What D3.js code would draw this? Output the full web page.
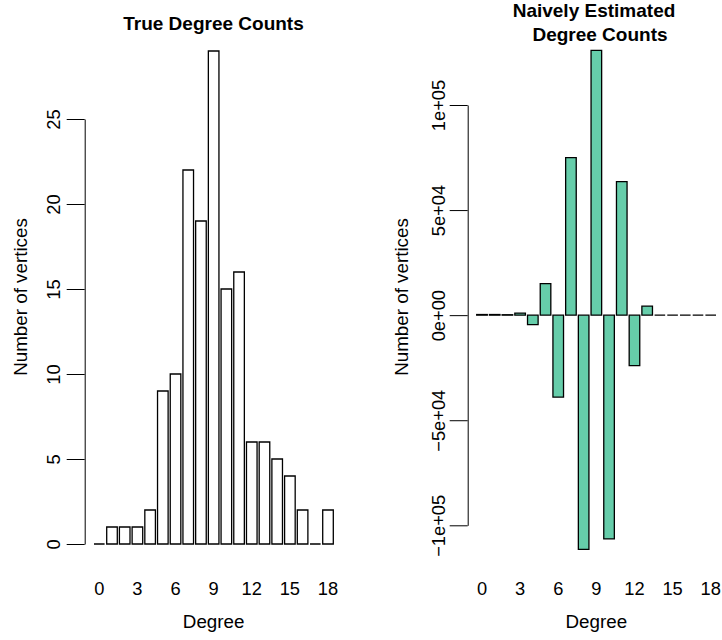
<!DOCTYPE html>
<html>
<head>
<meta charset="utf-8">
<script src="https://cdn.jsdelivr.net/npm/d3@7"></script>
<style>
  body { margin: 0; background: #fff; }
  text { font-family: "Liberation Sans", Arial, sans-serif; fill: #000; }
</style>
</head>
<body>
<script>
const width = 722,
    height = 640

// data
const degrees = [0, 1, 2, 3, 4, 5, 6, 7, 8, 9, 10, 11, 12, 13, 14, 15, 16, 17, 18]
const trueCounts = [0, 1, 1, 1, 2, 9, 10, 22, 19, 29, 15, 16, 6, 6, 5, 4, 2, 0, 2]
const naiveCounts = [300, 300, 200, 1000, -4500, 15000, -39000, 75000, -111500, 126000,
    -106500, 63500, -24000, 4300, 0, 0, 0, 0, 0]
const xTicks = [0, 3, 6, 9, 12, 15, 18]
const leftYTicks = [0, 5, 10, 15, 20, 25]
const rightYTicks = [-1e5, -5e4, 0, 5e4, 1e5]
const rightYLabels = ["\u22121e+05", "\u22125e+04", "0e+00", "5e+04", "1e+05"]

const svg = d3.select("body")
    .append("svg")
    .attr("width", width)
    .attr("height", height)

// R barplot positions: bar i spans [0.2 + 1.2i, 1.2 + 1.2i]
const barLeft = (i) => 0.2 + 1.2 * i

function panel(opts) {
    const x = d3.scaleLinear().domain([0.2, 22.8]).range(opts.xRange)
    const y = d3.scaleLinear().domain(opts.yDomain).range(opts.yRange)
    const g = svg.append("g")

    // paths rather than rects so zero-height bars still show their border
    g.selectAll("path.bar")
        .data(opts.values)
        .join("path")
        .attr("class", "bar")
        .attr("d", (d, i) => {
            const x0 = x(barLeft(i)), x1 = x(barLeft(i) + 1)
            const y0 = y(0), y1 = y(d)
            return `M${x0},${y0}H${x1}V${y1}H${x0}Z`
        })
        .attr("fill", opts.fill)
        .attr("stroke", "#000")
        .style("stroke-width", "1.3px")

    // y axis with rotated labels, like R's las = 0
    const axis = d3.axisLeft(y)
        .tickValues(opts.yTicks)
        .tickSizeInner(18)
        .tickSizeOuter(0)
        .tickFormat((d, i) => opts.yLabels[i])
    const ax = g.append("g")
        .attr("transform", `translate(${opts.axisX},0)`)
        .call(axis)
    ax.select(".domain").attr("stroke", "#000")
    ax.selectAll(".tick line").attr("stroke", "#000")
    ax.selectAll(".tick text")
        .attr("transform", "rotate(-90)")
        .attr("x", 0)
        .attr("y", -opts.labelGap)
        .attr("dy", 0)
        .attr("text-anchor", "middle")
        .style("font-size", "18.3px")
        .style("font-family", '"Liberation Sans", Arial, sans-serif')
        .attr("fill", "#000")

    // x labels under bar centres
    g.selectAll(".xlab")
        .data(xTicks)
        .join("text")
        .attr("class", "xlab")
        .attr("x", (d) => x(barLeft(degrees.indexOf(d)) + 0.5))
        .attr("y", 595)
        .attr("text-anchor", "middle")
        .style("font-size", "18.3px")
        .text((d) => d)

    g.append("text")
        .attr("x", (opts.xRange[0] + opts.xRange[1]) / 2)
        .attr("y", 628)
        .attr("text-anchor", "middle")
        .style("font-size", "18.8px")
        .text("Degree")

    g.append("text")
        .attr("transform", `translate(${opts.yTitleX},297) rotate(-90)`)
        .attr("text-anchor", "middle")
        .style("font-size", "18.8px")
        .text("Number of vertices")

    opts.title.forEach((t) => {
        g.append("text")
            .attr("x", t.x)
            .attr("y", t.y)
            .attr("text-anchor", "middle")
            .style("font-size", "19px")
            .style("font-weight", "bold")
            .text(t.text)
    })
}

panel({
    values: trueCounts,
    fill: "#fff",
    xRange: [94, 333.3],
    yDomain: [0, 25],
    yRange: [544, 119],
    yTicks: leftYTicks,
    yLabels: leftYTicks.map(String),
    axisX: 84.7,
    labelGap: 24.3,
    yTitleX: 26.7,
    title: [{ text: "True Degree Counts", x: 213.5, y: 29.5 }]
})

panel({
    values: naiveCounts,
    fill: "#66CDAA",
    xRange: [476.7, 716],
    yDomain: [-1e5, 1e5],
    yRange: [525.3, 105],
    yTicks: rightYTicks,
    yLabels: rightYLabels,
    axisX: 467.7,
    labelGap: 22.7,
    yTitleX: 408,
    title: [
        { text: "Naively Estimated", x: 594, y: 17.3 },
        { text: "Degree Counts", x: 600, y: 40.7 }
    ]
})
</script>
</body>
</html>
